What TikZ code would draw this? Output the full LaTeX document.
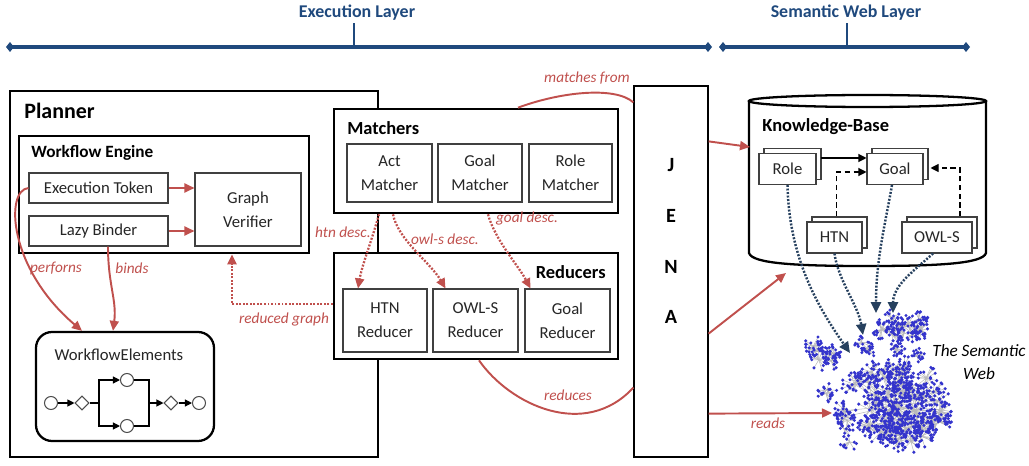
\documentclass[tikz,border=0pt]{standalone}
\usepackage{fontspec}
\setmainfont{Carlito}
\usetikzlibrary{arrows.meta,shapes.geometric,shadows}
\definecolor{accent}{HTML}{C0504D}
\definecolor{layerblue}{HTML}{1F497D}
\definecolor{linkblue}{HTML}{26405E}
\definecolor{webblue}{HTML}{3434CC}
\newlength\pu
\setlength\pu{0.02cm}
\tikzset{
  every node/.style={font=\fontsize{9.5}{13.5}\selectfont, inner sep=0pt, text=black!85},
  frame/.style={draw=black, line width=1.5pt, fill=white},
  cell/.style={draw=black!75, line width=0.6pt, fill=white, align=center},
  boxtitle/.style={font=\fontsize{10.5}{12}\selectfont\bfseries, text=black},
  docbox/.style={cell, minimum height=31\pu,
    copy shadow={shadow xshift=5\pu, shadow yshift=5\pu, draw=black!75, fill=white, line width=0.6pt}},
  redline/.style={draw=accent, line width=1.1pt},
  redarrow/.style={redline, -{Triangle[length=0.2cm,width=0.18cm]}},
  reddots/.style={draw=accent, line width=1.3pt, dash pattern=on 1.1pt off 0.9pt,
    -{Triangle[length=0.2cm,width=0.18cm]}},
  bluedots/.style={draw=linkblue, line width=1.4pt, dash pattern=on 1.1pt off 0.9pt,
    -{Triangle[length=0.22cm,width=0.2cm]}},
  note/.style={font=\fontsize{8.7}{10}\selectfont\itshape, text=accent},
  timeline/.style={draw=layerblue, line width=2pt,
    {Diamond[length=0.16cm,width=0.2cm]}-{Diamond[length=0.16cm,width=0.2cm]}},
  layertick/.style={draw=layerblue, line width=1.3pt},
  layertitle/.style={font=\fontsize{10.2}{12}\selectfont\bfseries, text=layerblue},
  wfcircle/.style={circle, draw=black!70, line width=0.6pt, fill=white, minimum size=13\pu},
  wfgate/.style={diamond, draw=black!70, line width=0.6pt, fill=white, minimum width=14\pu, minimum height=14\pu},
  wfline/.style={draw=black, line width=0.6pt},
  wfarrow/.style={wfline, -{Triangle[length=0.14cm,width=0.14cm]}},
  kbsolid/.style={draw=black, line width=0.6pt, -{Triangle[length=0.16cm,width=0.16cm]}},
  kbdash/.style={draw=black, line width=0.6pt, dash pattern=on 3pt off 2pt, -{Triangle[length=0.16cm,width=0.16cm]}},
  webdot/.style={fill=webblue},
  webedge/.style={draw=gray!55, line width=0.3pt},
}
% one pass over the semantic web: hubs spread over each cluster, each with a fan of
% linked resources; #1 = 1 draws the links, #1 = 0 draws the resource dots
\newcommand\webpass[1]{%
  \pgfmathsetseed{5}%
  \foreach \cx/\cy/\rx/\ry/\hubs/\fan/\spread in {893/406/50/40/52/17/13, 903/326/24/10/11/14/11,
      822/352/14/12/6/14/11, 830/388/6/8/2/10/10, 868/345/8/6/3/10/8, 896/352/4/4/2/9/8,
      920/356/5/3/2/8/7, 848/432/6/12/3/10/10}{
    \foreach \h in {1,...,\hubs}{
      \pgfmathsetmacro\ha{rnd*360}
      \pgfmathsetmacro\hr{sqrt(rnd)}
      \pgfmathsetmacro\hx{\cx+\rx*\hr*cos(\ha)}
      \pgfmathsetmacro\hy{\cy+\ry*\hr*sin(\ha)}
      \ifnum#1=1 \draw[webedge] (\cx,\cy) -- (\hx,\hy); \fi
      \foreach \i in {1,...,\fan}{
        \pgfmathsetmacro\ang{rnd*360}
        \pgfmathsetmacro\len{\spread*(0.35+0.65*rnd)}
        \pgfmathsetmacro\wx{\hx+\len*cos(\ang)}
        \pgfmathsetmacro\wy{\hy+\len*sin(\ang)}
        \ifnum#1=1
          \draw[webedge] (\hx,\hy) -- (\wx,\wy);
        \else
          \fill[webdot] (\wx,\wy) circle[radius=1.7\pu];
        \fi
      }
    }
  }%
}
\begin{document}
\begin{tikzpicture}[x=0.02cm,y=-0.02cm]
\useasboundingbox (0,0) rectangle (1029,466);

% ---- layer timeline ----
\coordinate (t1a) at (6,47);
\coordinate (t1b) at (712,47);
\coordinate (t2a) at (719,47);
\coordinate (t2b) at (970,47);
\coordinate (tick1) at (354,47);
\coordinate (tick2) at (847,47);
\draw[timeline] (t1a) -- (t1b);
\draw[timeline] (t2a) -- (t2b);
\draw[layertick] (tick1) -- ++(0,-24);
\draw[layertick] (tick2) -- ++(0,-24);
\node[layertitle] (execlbl) at (357,13) {Execution Layer};
\node[layertitle] (semlbl) at (846,13) {Semantic Web Layer};

% ---- planner ----
\node[frame, minimum width=368\pu, minimum height=366\pu] (planner) at (194,274) {};
\node[boxtitle, font=\fontsize{12.5}{14}\selectfont\bfseries, anchor=west] (plannerlbl) at (24,111) {Planner};

\node[frame, minimum width=290\pu, minimum height=117\pu] (engine) at (164,194.5) {};
\node[boxtitle, font=\fontsize{9.8}{12}\selectfont\bfseries, anchor=west] (enginelbl) at (31,153) {Workflow Engine};
\node[cell, minimum width=139\pu, minimum height=30\pu] (token) at (98.5,188) {Execution Token};
\node[cell, minimum width=139\pu, minimum height=30\pu] (binder) at (98.5,231) {Lazy Binder};
\node[cell, minimum width=106\pu, minimum height=73\pu] (verifier) at (248,209.5) {Graph\\Verifier};
\draw[redarrow] (token.east) -- (token.east -| verifier.west);
\draw[redarrow] (binder.east) -- (binder.east -| verifier.west);

% workflow elements
\node[frame, line width=1.3pt, rounded corners=16\pu, minimum width=178\pu, minimum height=109\pu] (wfe) at (125,386.5) {};
\node (wfelbl) at (119,355) {WorkflowElements};
\node[wfcircle] (c1) at (51,403) {};
\node[wfgate] (d1) at (82,403) {};
\node[wfcircle] (c2) at (127,380) {};
\node[wfcircle] (c3) at (127,426) {};
\node[wfgate] (d2) at (171,403) {};
\node[wfcircle] (c4) at (199,403) {};
\coordinate (split) at (99,403);
\coordinate (join) at (149,403);
\draw[wfarrow] (c1) -- (d1);
\draw[wfline] (d1.east) -- (split);
\draw[wfarrow] (split) |- (c2.west);
\draw[wfarrow] (split) |- (c3.west);
\draw[wfline] (c2.east) -| (join);
\draw[wfline] (c3.east) -| (join);
\draw[wfarrow] (join) -- (d2.west);
\draw[wfarrow] (d2.east) -- (c4.west);

\draw[redarrow] (token.west) .. controls (5,190) and (8,268) .. ([xshift=-43\pu]wfe.north);
\draw[redarrow] ([xshift=9.5\pu]binder.south) .. controls (108,285) and (117,300) .. ([xshift=-12\pu]wfe.north);
\node[note] (perfl) at (56,268) {perforns};
\node[note] (bindl) at (132,268) {binds};

% ---- matchers and reducers ----
\node[frame, minimum width=284\pu, minimum height=104\pu] (matchers) at (476,161) {};
\node[boxtitle, anchor=west] (matcherslbl) at (347,128) {Matchers};
\node[cell, minimum width=85\pu, minimum height=58\pu] (act) at (389.5,173) {Act\\Matcher};
\node[cell, minimum width=84\pu, minimum height=58\pu] (goalm) at (480,173) {Goal\\Matcher};
\node[cell, minimum width=83\pu, minimum height=58\pu] (rolem) at (570.5,173) {Role\\Matcher};

\node[frame, minimum width=284\pu, minimum height=106\pu] (reducers) at (476,306) {};
\node[boxtitle, anchor=east] (reducerslbl) at (606,272) {Reducers};
\node[cell, minimum width=84\pu, minimum height=63\pu] (htnr) at (385,320.5) {HTN\\Reducer};
\node[cell, minimum width=85\pu, minimum height=63\pu] (owlr) at (475.5,320.5) {OWL-S\\Reducer};
\node[cell, minimum width=85\pu, minimum height=63\pu] (goalr) at (567.5,320.5) {Goal\\Reducer};

\draw[reddots] ([xshift=-97\pu]matchers.south) .. controls (372,240) and (362,265) .. ([xshift=-27\pu]htnr.north);
\draw[reddots] ([xshift=-83\pu]matchers.south) .. controls (398,240) and (430,262) .. ([xshift=-30\pu]owlr.north);
\draw[reddots] ([xshift=12\pu]matchers.south) .. controls (495,240) and (518,265) .. ([xshift=-37\pu]goalr.north);
\draw[reddots] ([yshift=2\pu]reducers.west) -| ([xshift=68\pu]engine.south);
\node[note, anchor=east] (htnl) at (371,232) {htn desc.};
\node[note] (owll) at (445,239) {owl-s desc.};
\node[note] (goall) at (527,219) {goal desc.};
\node[note] (redgl) at (284,320) {reduced graph};

% ---- JENA ----
\node[draw=black, line width=0.7pt, fill=white, minimum width=74\pu, minimum height=371\pu] (jena) at (671,271.5) {};
\node[font=\fontsize{11.5}{29}\selectfont\bfseries, text=black, align=center] (jenatxt) at (671,241) {J\\E\\N\\A};

\draw[redline] ([xshift=42\pu]matchers.north) .. controls (560,92) and (615,86) .. ([yshift=-17\pu]jena.north west);
\node[note] (matchl) at (587,78) {matches from};
\draw[redline] ([xshift=3\pu]reducers.south) .. controls (510,405) and (585,440) .. ([yshift=70\pu]jena.south west);
\node[note] (redl) at (568,395) {reduces};

% ---- knowledge base ----
\fill[white] (749,101) -- (749,253) .. controls (752,264) and (800,266) .. (867.5,266)
  .. controls (935,266) and (983,264) .. (986,253) -- (986,101) -- cycle;
\draw[line width=1.3pt] (749,101) -- (749,253) .. controls (752,264) and (800,266) .. (867.5,266)
  .. controls (935,266) and (983,264) .. (986,253) -- (986,101);
\draw[line width=1.3pt, fill=white] (867.5,101) ellipse [x radius=118.5\pu, y radius=6\pu];
\node[boxtitle, anchor=west] (kblbl) at (762,127) {Knowledge-Base};
\node[docbox, minimum width=57\pu] (role) at (787.5,169) {Role};
\node[docbox, minimum width=56\pu] (goal) at (895,169) {Goal};
\node[docbox, minimum width=55\pu] (htn) at (834.5,237.5) {HTN};
\node[docbox, minimum width=70\pu] (owls) at (937,237.5) {OWL-S};
\draw[kbsolid] ([xshift=4\pu,yshift=11\pu]role.east) -- ([yshift=11\pu]goal.west);
\draw[kbdash] ([xshift=2\pu,yshift=5\pu]htn.north) |- ([yshift=-3\pu]goal.west);
\draw[kbdash] ([xshift=23\pu,yshift=5\pu]owls.north) |- ([xshift=7\pu,yshift=1\pu]goal.east);

\coordinate (kbin) at (750,147);
\coordinate (kbbottom) at (786,273);
\draw[redarrow] ([yshift=-56\pu]jena.north east) -- (kbin);
\draw[redarrow] ([yshift=124\pu]jena.south east) -- (kbbottom);

% ---- the semantic web: links first, then the resource dots on top ----
\webpass{1}
\webpass{0}
\node[font=\fontsize{9.8}{13.5}\selectfont\itshape, text=black, align=center] (weblbl) at (979,362) {The Semantic\\Web};

\coordinate (webA) at (850,353);
\coordinate (webB) at (863,335);
\coordinate (webC) at (876,313);
\coordinate (webD) at (893,313);
\coordinate (webin) at (832,413);
\draw[bluedots] (role.south) .. controls (789,260) and (820,310) .. (webA);
\draw[bluedots] (htn.south) .. controls (838,280) and (858,305) .. (webB);
\draw[bluedots] ([xshift=-3\pu]goal.south) .. controls (885,225) and (876,260) .. (webC);
\draw[bluedots] ([xshift=-4\pu]owls.south) .. controls (915,270) and (893,285) .. (webD);

\draw[redarrow] ([yshift=44\pu]jena.south east) -- (webin);
\node[note] (readl) at (768,423) {reads};
\end{tikzpicture}
\end{document}
